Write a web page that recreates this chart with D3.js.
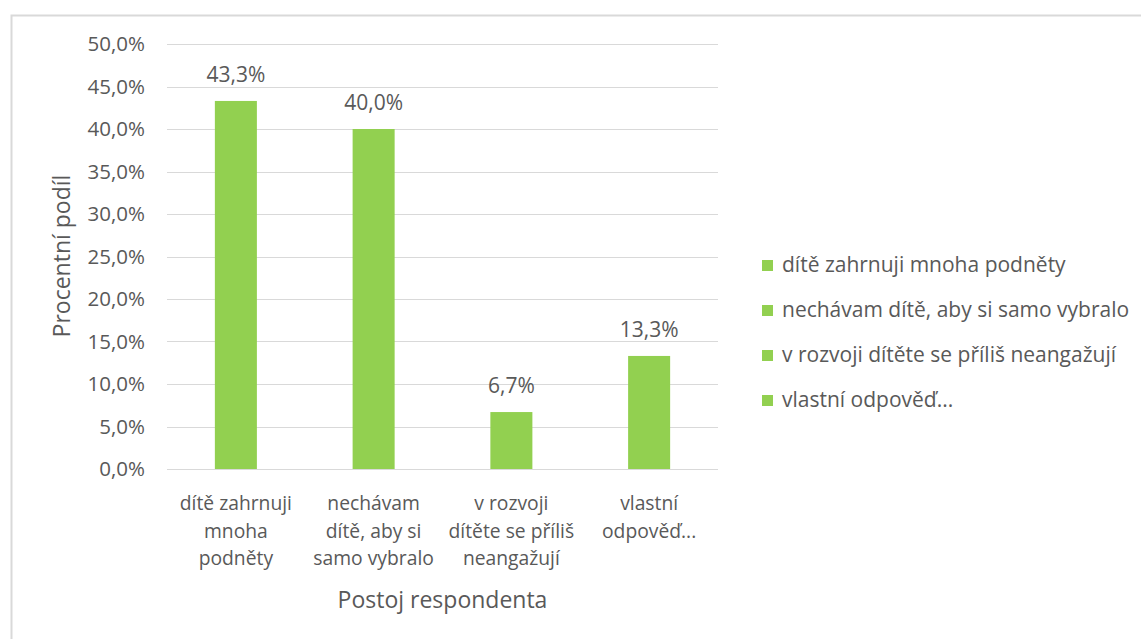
<!DOCTYPE html>
<html>
<head>
<meta charset="utf-8">
<script src="https://cdn.jsdelivr.net/npm/d3@7"></script>
<style>
	body { margin: 0; background: #fff; }
	text { font-family: "Open Sans", "Noto Sans", sans-serif; fill: #595959; }
</style>
</head>
<body>
<svg id="chart" width="1141" height="639"></svg>
<script>
// chart data
var categories = ["dítě zahrnuji mnoha podněty", "nechávam dítě, aby si samo vybralo", "v rozvoji dítěte se příliš neangažují", "vlastní odpověď..."];
var axisLabels = [["dítě zahrnuji", "mnoha", "podněty"], ["nechávam", "dítě, aby si", "samo vybralo"], ["v rozvoji", "dítěte se příliš", "neangažují"], ["vlastní", "odpověď..."]];
var values = [43.3, 40.0, 6.7, 13.3];
var yTicks = [0, 5, 10, 15, 20, 25, 30, 35, 40, 45, 50];

var svg = d3.select("#chart");
var barColor = "#92D050";

// outer frame (runs off right/bottom like the screenshot)
svg.append("rect")
	.attr("x", 11.5).attr("y", 15.5)
	.attr("width", 1200).attr("height", 700)
	.attr("fill", "none").attr("stroke", "#D9D9D9").attr("stroke-width", 2);

var plot = { left: 167, right: 718, top: 44, bottom: 469 };
var fmt = function(v) { return v.toFixed(1).replace(".", ",") + "%"; };

var x = d3.scaleBand().domain(categories).range([plot.left, plot.right]).padding(0);
var y = d3.scaleLinear().domain([0, 50]).range([plot.bottom, plot.top]);
var barW = x.bandwidth() * 0.305;

// gridlines
svg.append("g").selectAll("line")
	.data(yTicks)
	.enter().append("line")
		.attr("x1", plot.left).attr("x2", plot.right)
		.attr("y1", function(d) { return Math.round(y(d)) + 0.5; })
		.attr("y2", function(d) { return Math.round(y(d)) + 0.5; })
		.attr("stroke", "#D9D9D9").attr("stroke-width", 1);

// y axis labels
var yAxis = svg.append("g")
	.attr("transform", "translate(" + (plot.left - 22) + ",0)")
	.call(d3.axisLeft(y).tickValues(yTicks).tickSize(0).tickFormat(fmt));
yAxis.select(".domain").remove();
yAxis.selectAll("text")
	.attr("x", 0)
	.attr("fill", "#595959")
	.style("font-family", "'Open Sans', sans-serif")
	.style("font-size", "20.5px");

// bars
svg.append("g").selectAll("rect")
	.data(values)
	.enter().append("rect")
		.attr("x", function(d, i) { return x(categories[i]) + (x.bandwidth() - barW) / 2; })
		.attr("y", function(d) { return y(d); })
		.attr("width", barW)
		.attr("height", function(d) { return y(0) - y(d); })
		.attr("fill", barColor);

// data labels
svg.append("g").selectAll("text")
	.data(values)
	.enter().append("text")
		.attr("x", function(d, i) { return x(categories[i]) + x.bandwidth() / 2; })
		.attr("y", function(d) { return y(d) - 19; })
		.attr("text-anchor", "middle")
		.style("font-size", "21px")
		.text(fmt);

// x category labels (wrapped)
var xl = svg.append("g").selectAll("text")
	.data(axisLabels)
	.enter().append("text")
		.attr("x", function(d, i) { return x(categories[i]) + x.bandwidth() / 2; })
		.attr("y", 510)
		.attr("text-anchor", "middle")
		.style("font-size", "19.3px");
xl.selectAll("tspan")
	.data(function(d) { return d; })
	.enter().append("tspan")
		.attr("x", function() { return d3.select(this.parentNode).attr("x"); })
		.attr("dy", function(d, i) { return i === 0 ? 0 : 27.5; })
		.text(function(d) { return d; });

// axis titles
svg.append("text")
	.attr("x", (plot.left + plot.right) / 2).attr("y", 608)
	.attr("text-anchor", "middle")
	.style("font-size", "23px")
	.text("Postoj respondenta");
svg.append("text")
	.attr("transform", "translate(70,256) rotate(-90)")
	.attr("text-anchor", "middle")
	.style("font-size", "23px")
	.text("Procentní podíl");

// legend
var legend = svg.append("g").selectAll("g")
	.data(categories)
	.enter().append("g")
		.attr("transform", function(d, i) { return "translate(762," + (265 + i * 45) + ")"; });
legend.append("rect")
	.attr("x", 0).attr("y", -5).attr("width", 11).attr("height", 11)
	.attr("fill", barColor);
legend.append("text")
	.attr("x", 20).attr("y", 7)
	.style("font-size", "21px")
	.text(function(d) { return d; });
</script>
</body>
</html>
